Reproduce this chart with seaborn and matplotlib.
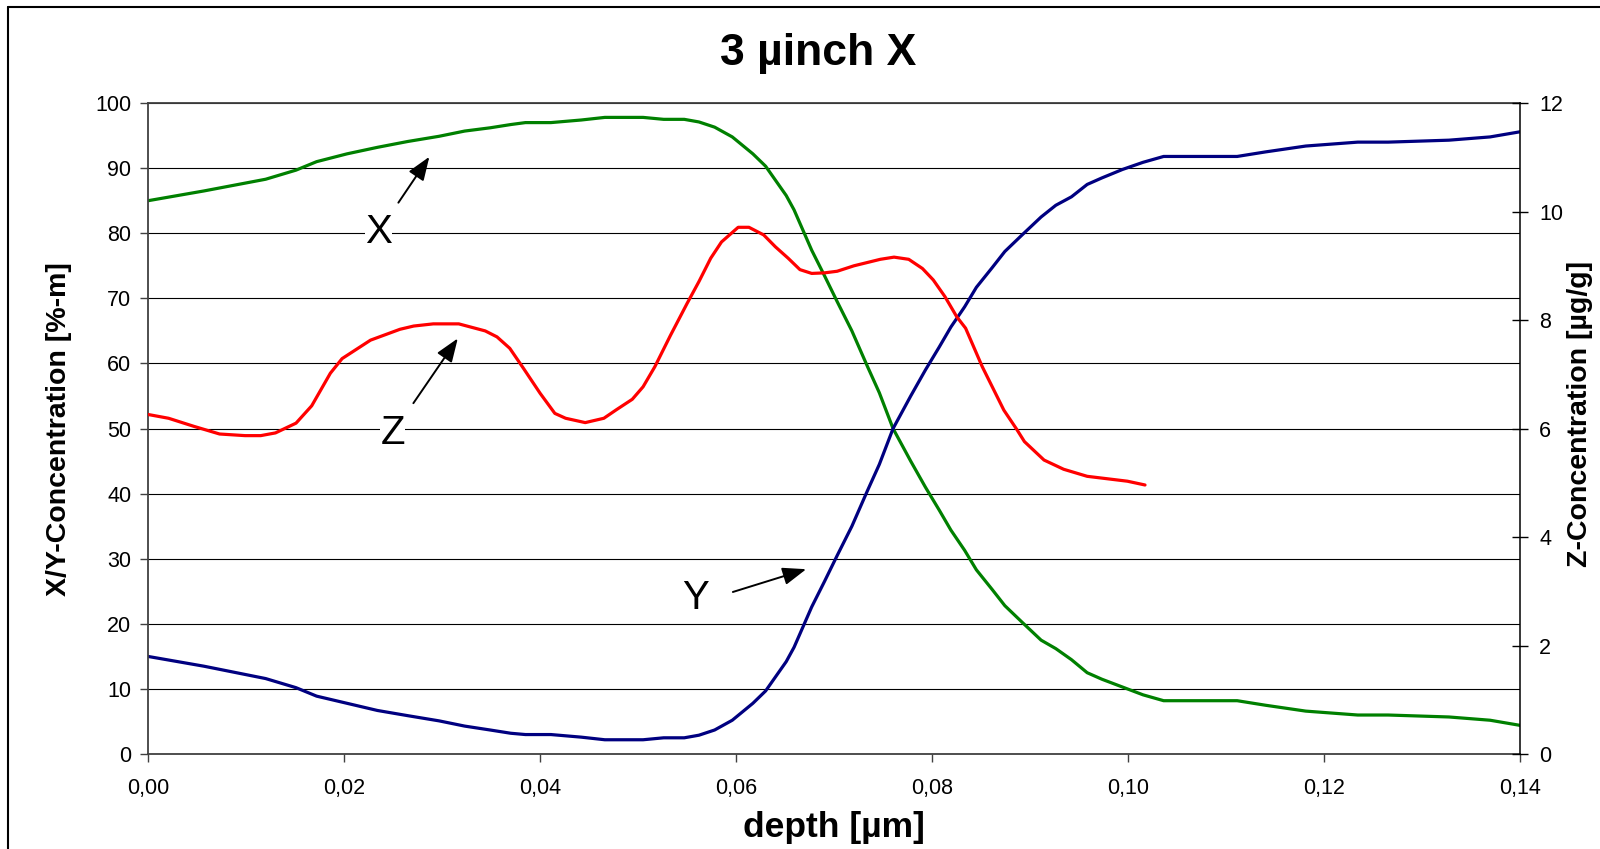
import matplotlib
matplotlib.use("Agg")
import matplotlib.pyplot as plt
from matplotlib.lines import Line2D
import seaborn as sns

# depth [um] shared by the X and Y profiles
depth_xy = [0.0000, 0.0057, 0.0120, 0.0151, 0.0172, 0.0203, 0.0234, 0.0265, 0.0297, 0.0323,
            0.0349, 0.0370, 0.0385, 0.0411, 0.0442, 0.0466, 0.0505, 0.0526, 0.0547, 0.0562,
            0.0578, 0.0596, 0.0617, 0.0630, 0.0651, 0.0659, 0.0677, 0.0690, 0.0703, 0.0718,
            0.0734, 0.0746, 0.0760, 0.0778, 0.0793, 0.0807, 0.0819, 0.0833, 0.0845, 0.0861,
            0.0874, 0.0892, 0.0911, 0.0926, 0.0942, 0.0958, 0.0973, 0.0994, 0.1015, 0.1036,
            0.1111, 0.1140, 0.1181, 0.1234, 0.1265, 0.1327, 0.1369, 0.1400]
x_conc = [85.0, 86.5, 88.3, 89.7, 91.0, 92.2, 93.2, 94.1, 94.9, 95.7,
          96.2, 96.7, 97.0, 97.0, 97.4, 97.8, 97.8, 97.5, 97.5, 97.1,
          96.3, 94.8, 92.2, 90.3, 85.8, 83.6, 77.4, 73.5, 69.5, 65.0,
          59.5, 55.5, 50.0, 45.0, 41.0, 37.5, 34.4, 31.3, 28.3, 25.3,
          22.8, 20.2, 17.5, 16.2, 14.5, 12.5, 11.5, 10.3, 9.1, 8.2,
          8.2, 7.5, 6.6, 6.0, 6.0, 5.7, 5.2, 4.4]
y_conc = [15.0, 13.5, 11.6, 10.2, 8.9, 7.8, 6.7, 5.9, 5.1, 4.3,
          3.7, 3.2, 3.0, 3.0, 2.6, 2.2, 2.2, 2.5, 2.5, 2.9,
          3.7, 5.2, 7.8, 9.7, 14.2, 16.4, 22.6, 26.5, 30.5, 35.0,
          40.5, 44.5, 50.0, 55.0, 59.0, 62.5, 65.6, 68.7, 71.7, 74.7,
          77.2, 79.8, 82.5, 84.3, 85.6, 87.5, 88.5, 89.8, 90.9, 91.8,
          91.8, 92.5, 93.4, 94.0, 94.0, 94.3, 94.8, 95.6]

# Z profile (right axis)
depth_z = [0.0000, 0.0021, 0.0047, 0.0073, 0.0099, 0.0115, 0.0130, 0.0151, 0.0167, 0.0186,
           0.0198, 0.0227, 0.0257, 0.0271, 0.0291, 0.0317, 0.0344, 0.0356, 0.0369, 0.0383,
           0.0400, 0.0415, 0.0426, 0.0446, 0.0465, 0.0478, 0.0494, 0.0505, 0.0517, 0.0533,
           0.0550, 0.0562, 0.0574, 0.0585, 0.0602, 0.0613, 0.0628, 0.0640, 0.0653, 0.0665,
           0.0677, 0.0690, 0.0703, 0.0720, 0.0747, 0.0761, 0.0776, 0.0790, 0.0801, 0.0813,
           0.0825, 0.0834, 0.0851, 0.0873, 0.0886, 0.0894, 0.0914, 0.0934, 0.0958, 0.0999,
           0.1017]
z_conc = [6.26, 6.19, 6.04, 5.90, 5.87, 5.87, 5.92, 6.10, 6.42, 7.02,
          7.29, 7.63, 7.83, 7.89, 7.93, 7.93, 7.80, 7.69, 7.48, 7.11,
          6.65, 6.28, 6.19, 6.11, 6.19, 6.35, 6.54, 6.77, 7.14, 7.72,
          8.31, 8.71, 9.14, 9.44, 9.71, 9.71, 9.57, 9.35, 9.14, 8.93,
          8.86, 8.87, 8.90, 9.00, 9.12, 9.16, 9.12, 8.95, 8.74, 8.43,
          8.06, 7.85, 7.14, 6.34, 5.99, 5.76, 5.42, 5.25, 5.12, 5.03,
          4.96]

x_ticks = [0.00, 0.02, 0.04, 0.06, 0.08, 0.10, 0.12, 0.14]
x_tick_labels = ["0,00", "0,02", "0,04", "0,06", "0,08", "0,10", "0,12", "0,14"]
left_ticks = [0, 10, 20, 30, 40, 50, 60, 70, 80, 90, 100]
right_ticks = [0, 2, 4, 6, 8, 10, 12]

sns.set_style("white")
plt.rcParams['font.family'] = ['Liberation Sans', 'DejaVu Sans']
plt.rcParams['text.color'] = 'black'
plt.rcParams['axes.labelcolor'] = 'black'
plt.rcParams['xtick.color'] = 'black'
plt.rcParams['ytick.color'] = 'black'

fig = plt.figure(figsize=(16, 8.49), dpi=100)
ax = fig.add_axes([0.0925, 0.1118, 0.8578, 0.7668])
ax2 = ax.twinx()

sns.lineplot(x=depth_xy, y=x_conc, ax=ax, color='#008000', linewidth=2.3)
sns.lineplot(x=depth_xy, y=y_conc, ax=ax, color='#000080', linewidth=2.3)
sns.lineplot(x=depth_z, y=z_conc, ax=ax2, color='#ff0000', linewidth=2.3)

ax.set_xlim(0, 0.14)
ax.set_ylim(0, 100)
ax2.set_ylim(0, 12)
ax.set_xticks(x_ticks)
ax.set_xticklabels(x_tick_labels)
ax.set_yticks(left_ticks)
ax2.set_yticks(right_ticks)

ax.set_axisbelow(True)
ax.grid(axis='y', color='black', linewidth=0.8)
ax.grid(axis='x', visible=False)
ax2.grid(False)

for s in ['left', 'bottom', 'top']:
    ax.spines[s].set_color('#404040')
    ax.spines[s].set_linewidth(1.3)
ax.spines['right'].set_visible(False)
for s in ['left', 'bottom', 'top']:
    ax2.spines[s].set_visible(False)
ax2.spines['right'].set_color('black')
ax2.spines['right'].set_linewidth(1.1)

ax.tick_params(axis='y', direction='out', length=6, width=1, color='#404040',
               labelsize=15.5, labelcolor='black', pad=6, left=True)
ax.tick_params(axis='x', direction='out', length=5.5, width=1, color='#404040',
               labelsize=15.5, labelcolor='black', pad=12, bottom=True)
ax2.tick_params(axis='y', direction='inout', length=11, width=1, color='black',
                labelsize=15.5, labelcolor='black', pad=8, right=True)

ax.set_xlabel("depth [µm]", fontsize=25.5, fontweight='bold', va='center')
ax.xaxis.set_label_coords(0.5, -0.113)
ax.set_ylabel("X/Y-Concentration [%-m]", fontsize=20.5, fontweight='bold', va='center')
ax.yaxis.set_label_coords(-0.0649, 0.5)
ax2.set_ylabel("Z-Concentration [µg/g]", fontsize=20.5, fontweight='bold', va='center',
               rotation=90)
ax2.yaxis.set_label_coords(1.0437, 0.522)

fig.text(0.5114, 0.924, "3 µinch X", fontsize=32, fontweight='bold',
         ha='center', va='baseline')

arrow = dict(arrowstyle='-|>,head_length=0.72,head_width=0.27', color='black',
             lw=1.4, shrinkA=0, shrinkB=0, mutation_scale=20)
label_box = dict(facecolor='white', edgecolor='none', pad=0)
ax.annotate('', xy=(0.0287, 91.75), xytext=(0.02554, 84.7), arrowprops=arrow)
ax.annotate('', xy=(0.0316, 63.85), xytext=(0.02707, 53.9), arrowprops=arrow)
ax.annotate('', xy=(0.06714, 28.4), xytext=(0.05966, 24.9), arrowprops=arrow)
ax.text(0.02355, 80.2, "X", fontsize=29, ha='center', va='center', bbox=label_box)
ax.text(0.02495, 49.3, "Z", fontsize=29, ha='center', va='center', bbox=label_box)
ax.text(0.0559, 24.0, "Y", fontsize=29, ha='center', va='center', bbox=label_box)

# outer chart frame (cut off at right and bottom in the original)
fig.add_artist(Line2D([8 / 1600, 8 / 1600], [0, 1 - 7 / 849], transform=fig.transFigure,
                      color='black', linewidth=1.5))
fig.add_artist(Line2D([8 / 1600, 1], [1 - 7 / 849, 1 - 7 / 849], transform=fig.transFigure,
                      color='black', linewidth=1.5))

fig.savefig("out.png", dpi=100)
